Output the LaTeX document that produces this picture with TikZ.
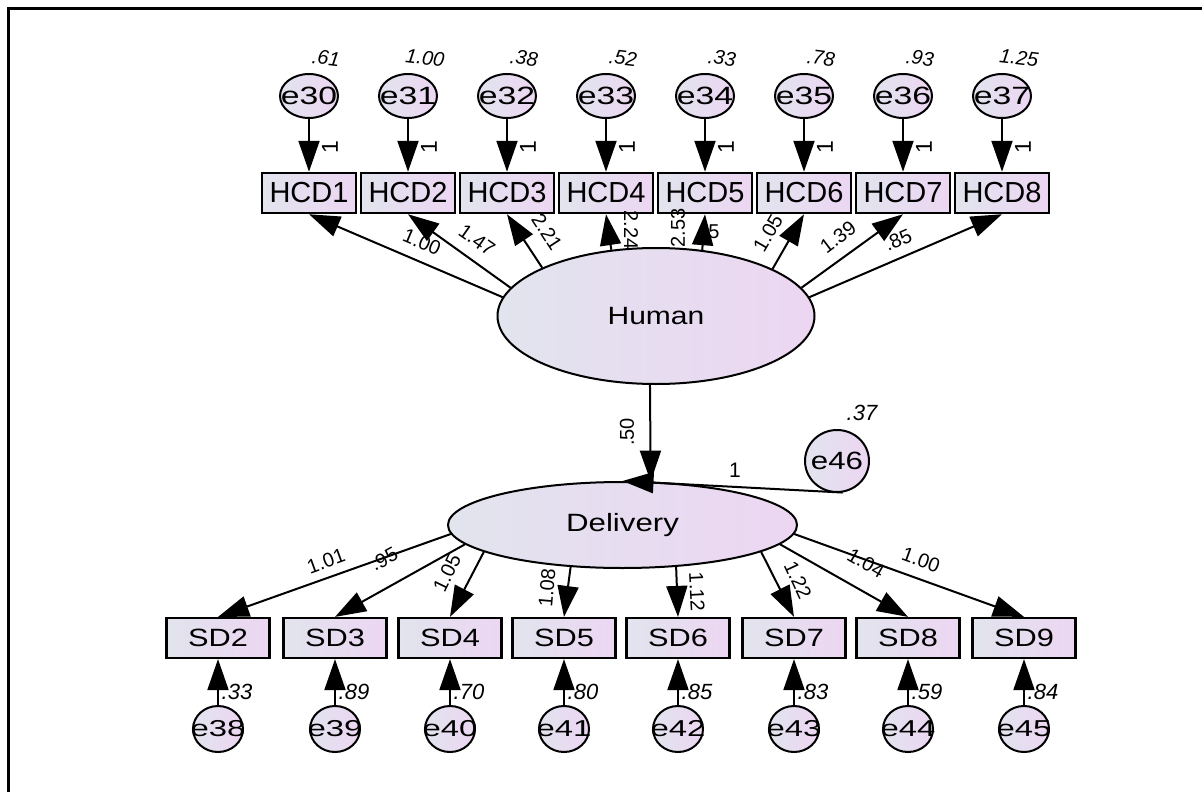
\documentclass[tikz,border=0pt]{standalone}
\usepackage{fontspec}
\setmainfont{Liberation Sans}
\usepackage{graphicx}
\usetikzlibrary{arrows.meta,shapes.geometric}
\definecolor{fillL}{RGB}{226,228,238}
\definecolor{fillR}{RGB}{236,214,242}
\newcommand{\sxt}[2]{\makebox[0pt]{\scalebox{#1}[1]{#2}}}
\begin{document}
\begin{tikzpicture}[x=1pt,y=-1pt,
 hbox/.style={rectangle,draw,line width=2.5pt,left color=fillL,right color=fillR,minimum width=94pt,minimum height=40pt,inner sep=0pt,font=\fontsize{29}{30}\selectfont},
 sbox/.style={rectangle,draw,line width=2.2pt,left color=fillL,right color=fillR,minimum width=103pt,minimum height=40pt,inner sep=0pt,font=\fontsize{25}{26}\selectfont},
 lat/.style={ellipse,draw,line width=2pt,left color=fillL,right color=fillR,inner sep=0pt,font=\fontsize{25}{26}\selectfont},
 errt/.style={ellipse,draw,line width=2pt,left color=fillL,right color=fillR,minimum width=58pt,minimum height=44pt,inner sep=0pt,font=\fontsize{25}{26}\selectfont},
 errb/.style={ellipse,draw,line width=2pt,left color=fillL,right color=fillR,minimum width=50pt,minimum height=46pt,inner sep=0pt,font=\fontsize{23}{24}\selectfont},
 arr/.style={line width=2pt,-{Triangle[length=31pt,width=21pt]}},
 ldg/.style={inner sep=0pt,font=\fontsize{20}{20}\selectfont},
 var/.style={inner sep=0pt,font=\fontsize{20}{20}\selectfont\itshape},
 varb/.style={inner sep=0pt,font=\fontsize{22}{22}\selectfont\itshape},
]
\useasboundingbox (0,0) rectangle (1202,792);
\draw[line width=3pt] (8,792) -- (8,9) -- (1202,9);

% latent variables
\node[lat,minimum width=317pt,minimum height=136pt] (H) at (656,316) {\sxt{1.2}{Human}};
\node[lat,minimum width=349pt,minimum height=86pt] (D) at (622.5,525) {\sxt{1.25}{Delivery}};
\node[lat,minimum width=64pt,minimum height=62pt] (e46) at (837,461) {\sxt{1.25}{e46}};

% top indicators
\foreach \i/\e/\v in {1/30/.61,2/31/1.00,3/32/.38,4/33/.52,5/34/.33,6/35/.78,7/36/.93,8/37/1.25}{
  \pgfmathsetmacro\xx{309+99*(\i-1)}
  \node[hbox] (HCD\i) at (\xx,193) {HCD\i};
  \node[errt] (e\e) at (\xx,96) {\sxt{1.35}{e\e}};
  \draw[arr] (e\e) -- (HCD\i);
  \node[ldg,rotate=90,font=\fontsize{23}{23}\selectfont] (one\e) at (\xx+21,147) {1};
  \node[var,rotate=-7] (v\e) at (\xx+17,58) {\v};
}
\foreach \i/\a in {1/173,2/169,3/157,4/124,5/55,6/22,7/11,8/7}{
  \draw[arr] (H.\a) -- (HCD\i.south);
}
\node[ldg,rotate=-23] (l1) at (422,242) {1.00};
\node[ldg,rotate=-35] (l2) at (477,240) {1.47};
\node[ldg,rotate=-57] (l3) at (547,232) {2.21};
\node[ldg,rotate=-90] (l4) at (631,230) {2.24};
\node[ldg,rotate=90] (l5) at (678,228) {2.53};
\node[ldg] (l5b) at (714,232) {5};
\node[ldg,rotate=60] (l6) at (768,233) {1.05};
\node[ldg,rotate=37] (l7) at (838,237) {1.39};
\node[ldg,rotate=24] (l8) at (898,240) {.85};

% structural path
\draw[arr] (H.265) -- (D.57);
\node[ldg,rotate=90] (l50) at (627,432) {.50};
\draw[arr] (e46.280) -- (D.90);
\node[ldg,font=\fontsize{21}{21}\selectfont] (l46) at (735,470) {1};
\node[var,font=\fontsize{22}{22}\selectfont\itshape] (v46) at (862,413) {.37};

% bottom indicators
\foreach \i/\e/\x/\v/\a in {2/38/218/.33/183,3/39/335/.89/187,4/40/450/.70/191,5/41/564/.80/219,6/42/678/.85/322,7/43/794/.83/349,8/44/908/.59/353,9/45/1024/.84/357}{
  \node[sbox] (SD\i) at (\x,638) {\sxt{1.23}{SD\i}};
  \node[errb] (e\e) at (\x,729) {\sxt{1.43}{e\e}};
  \draw[arr] (e\e) -- (SD\i);
  \draw[arr] (D.\a) -- (SD\i.north);
  \node[varb] (v\e) at (\x+19,692) {\v};
}
\node[ldg,rotate=20] (m2) at (326,561) {1.01};
\node[ldg,rotate=29] (m3) at (384,559) {.95};
\node[ldg,rotate=64] (m4) at (447,573) {1.05};
\node[ldg,rotate=85] (m5) at (547,588) {1.08};
\node[ldg,rotate=-87] (m6) at (697,592) {1.12};
\node[ldg,rotate=-65] (m7) at (798,580) {1.22};
\node[ldg,rotate=-30] (m8) at (866,563) {1.04};
\node[ldg,rotate=-20] (m9) at (921,560) {1.00};
\end{tikzpicture}
\end{document}
